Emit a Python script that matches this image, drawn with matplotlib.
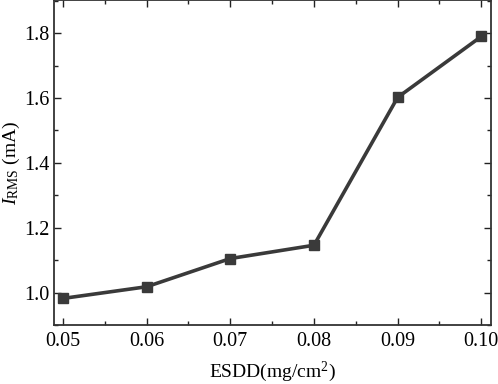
import numpy as np
import matplotlib.pyplot as plt

plt.rcParams['font.family'] = ['Liberation Serif', 'DejaVu Serif']
plt.rcParams['mathtext.fontset'] = 'custom'
plt.rcParams['mathtext.rm'] = 'Liberation Serif'
plt.rcParams['mathtext.it'] = 'Liberation Serif:italic'

esdd = [0.05, 0.06, 0.07, 0.08, 0.09, 0.10]
irms = [0.982, 1.018, 1.105, 1.146, 1.602, 1.79]
xticks = [0.05, 0.06, 0.07, 0.08, 0.09, 0.10]
yticks = [1.0, 1.2, 1.4, 1.6, 1.8]

fig = plt.figure(figsize=(4.98, 3.84), dpi=100)
ax = fig.add_axes([54/498, 59/384, 436.5/498, 325/384])

ax.plot(esdd, irms, color='#3a3a3a', lw=2.6, marker='s', ms=6.5,
        mec='#3a3a3a', mfc='#3a3a3a')

ax.set_xlim(0.04893, 0.1011)
ax.set_ylim(0.9025, 1.9025)
ax.set_xticks(xticks)
ax.set_xticklabels(['%.2f' % v for v in xticks])
ax.set_xticks(np.arange(0.055, 0.1, 0.01), minor=True)
ax.set_yticks(yticks)
ax.set_yticklabels(['%.1f' % v for v in yticks])
ax.set_yticks(np.arange(0.9, 1.91, 0.2), minor=True)

ax.tick_params(which='both', direction='in', top=True, right=True,
               labelsize=14.5, width=1.0, color='#222222')
ax.tick_params(which='major', length=5)
ax.tick_params(which='minor', length=3)
ax.tick_params(axis='x', which='major', pad=5)
ax.tick_params(axis='y', which='major', pad=3)
for s in ax.spines.values():
    s.set_linewidth(1.3)
    s.set_color('#333333')

ax.set_xlabel('ESDD(mg/cm$^2$)', fontsize=14, labelpad=6.5)
ax.set_ylabel('$I_{\\rm RMS}$ (mA)', fontsize=14, labelpad=2)

fig.savefig('out.png', dpi=100)
